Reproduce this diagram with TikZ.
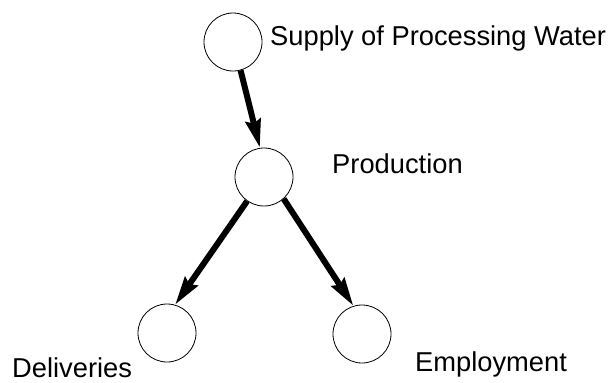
\documentclass[tikz,border=0pt]{standalone}
\usepackage{fontspec}
\setmainfont{Liberation Sans}
\usetikzlibrary{arrows.meta}
\begin{document}
\begin{tikzpicture}[x=1pt,y=-1pt,
  statenode/.style={circle,draw,line width=0.8pt,minimum size=58pt,inner sep=0pt},
  labeltext/.style={anchor=base west,inner sep=0pt,font=\fontsize{27.3}{30}\selectfont},
  flow/.style={line width=6pt,-{Stealth[length=28pt,width=15pt,inset=3pt]}}]
\useasboundingbox (0,0) rectangle (611,383);
\node[statenode] (sup) at (233,42) {};
\node[statenode] (prod) at (264,177) {};
\node[statenode] (del) at (167,333) {};
\node[statenode] (emp) at (362,334) {};
\node[labeltext] (tsup) at (270,45) {Supply of Processing Water};
\node[labeltext] (tprod) at (332,173) {Production};
\node[labeltext] (tdel) at (12,377) {Deliveries};
\node[labeltext] (temp) at (415,371) {Employment};
\draw[flow] (sup.-75) -- (prod.98);
\draw[flow] (prod.-125) -- (del.74);
\draw[flow] (prod.-48) -- (emp.107);
\end{tikzpicture}
\end{document}
